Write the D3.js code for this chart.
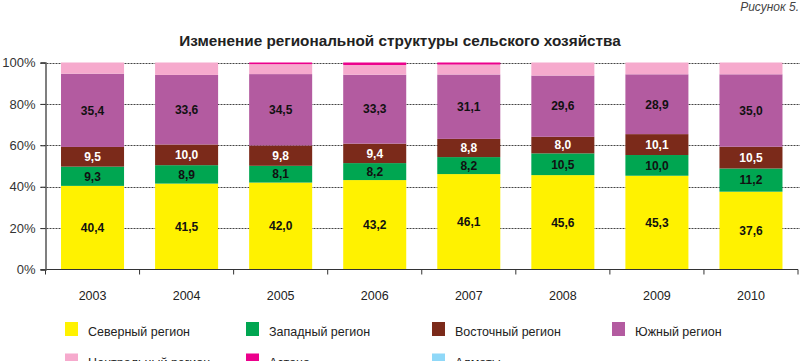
<!DOCTYPE html>
<meta charset="utf-8">
<script src="https://d3js.org/d3.v7.min.js"></script>
<style>
body { margin: 0; background: #fff; }
text { font-family: "Liberation Sans", Arial, sans-serif; }
</style>
<div id="chart"></div>
<script>

// categories (years)
var years = ["2003", "2004", "2005", "2006", "2007", "2008", "2009", "2010"];

// series values, % of total
var north   = [40.4, 41.5, 42.0, 43.2, 46.1, 45.6, 45.3, 37.6];
var west    = [9.3, 8.9, 8.1, 8.2, 8.2, 10.5, 10.0, 11.2];
var east    = [9.5, 10.0, 9.8, 9.4, 8.8, 8.0, 10.1, 10.5];
var south   = [35.4, 33.6, 34.5, 33.3, 31.1, 29.6, 28.9, 35.0];
var central = [5.4, 6.0, 4.8, 4.7, 4.8, 6.3, 5.7, 5.7];
var astana  = [0, 0, 0.8, 1.2, 1.0, 0, 0, 0];
var almaty  = [0, 0, 0, 0, 0, 0, 0, 0];

var seriesNames = ["Северный регион", "Западный регион", "Восточный регион", "Южный регион",
                   "Центральный регион", "Астана", "Алматы"];
var seriesValues = [north, west, east, south, central, astana, almaty];
var colors = ["#fff200", "#00a651", "#7b2a1a", "#b35ba0", "#f6aacd", "#ec008c", "#8fd8f8"];
var labelColors = ["#111", "#111", "#fff", "#111"];   // only first four series carry labels

var yTicks = [0, 20, 40, 60, 80, 100];

var W = 800, H = 361;
var margin = {left: 45.5, right: 2, top: 62.5, bottom: 91.5};

var svg = d3.select("#chart").append("svg")
  .attr("width", W).attr("height", H);

// build table for stacking
var keys = seriesNames;
var table = years.map(function(y, i) {
  var row = {year: y};
  keys.forEach(function(k, j) { row[k] = seriesValues[j][i]; });
  return row;
});
var stacked = d3.stack().keys(keys)(table);

var x = d3.scaleBand()
  .domain(years)
  .range([margin.left, W - margin.right])
  .paddingInner(0.33)
  .paddingOuter(0.165);

var y = d3.scaleLinear()
  .domain([0, 100])
  .range([H - margin.bottom, margin.top]);

// dashed gridlines
svg.append("g")
  .selectAll("line")
  .data(yTicks.filter(function(d) { return d > 0; }))
  .enter().append("line")
    .attr("x1", margin.left - 5)
    .attr("x2", W)
    .attr("y1", function(d) { return Math.round(y(d)) + 0.5; })
    .attr("y2", function(d) { return Math.round(y(d)) + 0.5; })
    .attr("stroke", "#444")
    .attr("stroke-width", 1)
    .attr("stroke-dasharray", "2,1");

// bars
var layer = svg.append("g")
  .selectAll("g")
  .data(stacked)
  .enter().append("g")
    .attr("fill", function(d, i) { return colors[i]; });

layer.selectAll("rect")
  .data(function(d) { return d; })
  .enter().append("rect")
    .attr("x", function(d) { return x(d.data.year); })
    .attr("y", function(d) { return y(d[1]); })
    .attr("width", x.bandwidth())
    .attr("height", function(d) { return y(d[0]) - y(d[1]); });

// value labels
stacked.slice(0, 4).forEach(function(s, i) {
  svg.append("g")
    .selectAll("text")
    .data(s)
    .enter().append("text")
      .attr("x", function(d) { return x(d.data.year) + x.bandwidth() / 2; })
      .attr("y", function(d) { return (y(d[0]) + y(d[1])) / 2; })
      .attr("dy", "0.36em")
      .attr("text-anchor", "middle")
      .style("font-size", "12px")
      .style("font-weight", "bold")
      .attr("fill", labelColors[i])
      .text(function(d) { return d3.format(".1f")(d[1] - d[0]).replace(".", ","); });
});

// x axis
var xAxis = svg.append("g")
  .attr("transform", "translate(0," + y(0) + ")");
xAxis.append("line")
  .attr("x1", margin.left - 5).attr("x2", W - margin.right)
  .attr("stroke", "#333").attr("stroke-width", 1.2);
var bounds = years.map(function(d) { return x(d) - x.step() * x.paddingInner() / 2; });
bounds.push(W - margin.right);
xAxis.selectAll(".tk")
  .data(bounds)
  .enter().append("line")
    .attr("x1", function(d) { return d; })
    .attr("x2", function(d) { return d; })
    .attr("y1", 0).attr("y2", 5)
    .attr("stroke", "#333");
xAxis.selectAll(".yr")
  .data(years)
  .enter().append("text")
    .attr("x", function(d) { return x(d) + x.bandwidth() / 2; })
    .attr("y", 30)
    .attr("text-anchor", "middle")
    .style("font-size", "12.5px")
    .attr("fill", "#222")
    .text(function(d) { return d; });

// y axis
var yAxis = svg.append("g")
  .attr("transform", "translate(" + margin.left + ",0)")
  .call(d3.axisLeft(y).tickValues(yTicks).tickSize(5).tickFormat(function(d) { return d + "%"; }));
yAxis.select(".domain").attr("stroke", "#555").attr("stroke-width", 1.5);
yAxis.selectAll(".tick line").attr("stroke", "#333");
yAxis.selectAll("text")
  .attr("x", -10)
  .style("font-size", "13px")
  .style("font-family", "'Liberation Sans', Arial, sans-serif")
  .attr("fill", "#333");

// title
svg.append("text")
  .attr("x", 400)
  .attr("y", 45.5)
  .attr("text-anchor", "middle")
  .style("font-size", "15.3px")
  .style("font-weight", "bold")
  .attr("fill", "#222")
  .text("Изменение региональной структуры сельского хозяйства");

svg.append("text")
  .attr("x", 799)
  .attr("y", 11)
  .attr("text-anchor", "end")
  .style("font-size", "12px")
  .style("font-style", "italic")
  .attr("fill", "#444")
  .text("Рисунок 5.");

// legend
var legendX = [65, 246, 432, 612];
var legend = svg.append("g")
  .selectAll("g")
  .data(seriesNames)
  .enter().append("g")
    .attr("transform", function(d, i) {
      return "translate(" + legendX[i % 4] + "," + (322 + Math.floor(i / 4) * 31.5) + ")";
    });
legend.append("rect")
  .attr("width", 13)
  .attr("height", 14)
  .attr("fill", function(d, i) { return colors[i]; });
legend.append("text")
  .attr("x", 23)
  .attr("y", 9)
  .attr("dy", "0.36em")
  .style("font-size", "12.5px")
  .attr("fill", "#222")
  .text(function(d) { return d; });

</script>
